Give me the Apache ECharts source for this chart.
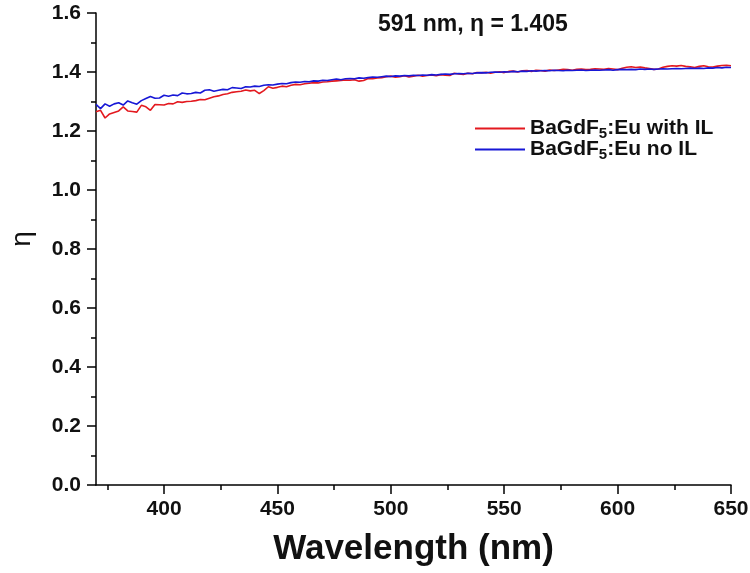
<!DOCTYPE html>
<html>
<head>
<meta charset="utf-8">
<script src="https://cdn.jsdelivr.net/npm/echarts@6/dist/echarts.min.js"></script>
<style>
  html, body { margin: 0; padding: 0; background: #fff; }
  #chart { width: 750px; height: 573px; }
</style>
</head>
<body>
<div id="chart"></div>
<script>
// Refractive index spectra of BaGdF5:Eu films, 370-650 nm in 2 nm steps
const wavelengths = [
  370,372,374,376,378,380,382,384,386,388,390,392,394,396,398,
  400,402,404,406,408,410,412,414,416,418,420,422,424,426,428,
  430,432,434,436,438,440,442,444,446,448,450,452,454,456,458,
  460,462,464,466,468,470,472,474,476,478,480,482,484,486,488,
  490,492,494,496,498,500,502,504,506,508,510,512,514,516,518,
  520,522,524,526,528,530,532,534,536,538,540,542,544,546,548,
  550,552,554,556,558,560,562,564,566,568,570,572,574,576,578,
  580,582,584,586,588,590,592,594,596,598,600,602,604,606,608,
  610,612,614,616,618,620,622,624,626,628,630,632,634,636,638,
  640,642,644,646,648,650
];

const etaWithIL = [
  1.265,1.270,1.244,1.258,1.263,1.268,1.282,1.268,1.266,1.264,1.287,1.282,1.270,1.290,1.289,
  1.288,1.293,1.292,1.299,1.297,1.300,1.301,1.303,1.307,1.306,1.311,1.316,1.319,1.324,1.326,
  1.331,1.333,1.335,1.339,1.336,1.338,1.327,1.337,1.350,1.345,1.348,1.352,1.350,1.355,1.358,
  1.357,1.360,1.362,1.364,1.363,1.366,1.367,1.369,1.370,1.371,1.373,1.372,1.374,1.369,1.371,
  1.378,1.377,1.380,1.381,1.384,1.386,1.382,1.384,1.387,1.383,1.386,1.389,1.386,1.388,1.390,
  1.387,1.391,1.389,1.388,1.396,1.393,1.392,1.396,1.394,1.398,1.397,1.399,1.396,1.399,1.401,
  1.398,1.402,1.403,1.400,1.404,1.405,1.402,1.406,1.405,1.403,1.407,1.405,1.407,1.409,1.408,
  1.406,1.409,1.410,1.408,1.409,1.411,1.410,1.409,1.412,1.410,1.408,1.413,1.416,1.418,1.415,
  1.417,1.414,1.412,1.409,1.410,1.416,1.419,1.421,1.420,1.422,1.419,1.418,1.415,1.419,1.421,
  1.418,1.417,1.420,1.422,1.423,1.421
];

const etaNoIL = [
  1.290,1.276,1.292,1.284,1.292,1.296,1.288,1.302,1.296,1.291,1.303,1.310,1.317,1.311,1.312,
  1.321,1.318,1.322,1.320,1.329,1.326,1.327,1.331,1.329,1.338,1.340,1.335,1.338,1.341,1.340,
  1.347,1.346,1.344,1.350,1.349,1.352,1.351,1.355,1.357,1.356,1.359,1.361,1.360,1.364,1.366,
  1.365,1.368,1.367,1.370,1.369,1.372,1.371,1.374,1.376,1.374,1.377,1.378,1.377,1.380,1.379,
  1.381,1.383,1.382,1.384,1.386,1.385,1.387,1.386,1.388,1.387,1.389,1.388,1.390,1.389,1.391,
  1.390,1.392,1.393,1.392,1.394,1.395,1.394,1.396,1.395,1.397,1.398,1.397,1.399,1.400,1.399,
  1.401,1.400,1.402,1.401,1.403,1.402,1.404,1.403,1.404,1.405,1.404,1.406,1.405,1.404,1.406,
  1.405,1.406,1.407,1.405,1.406,1.407,1.406,1.407,1.408,1.406,1.408,1.409,1.408,1.409,1.408,
  1.410,1.409,1.410,1.409,1.410,1.411,1.410,1.411,1.412,1.411,1.412,1.413,1.412,1.413,1.412,
  1.414,1.413,1.415,1.414,1.416,1.415
];

const xMajorTicks = [400, 450, 500, 550, 600, 650];
const xMinorTicks = [375, 425, 475, 525, 575, 625];
const seriesNames = ['BaGdF5:Eu with IL', 'BaGdF5:Eu no IL'];
const annotation = '591 nm, \u03b7 = 1.405';

const FONT = '"Liberation Sans", Arial, sans-serif';
const AXIS_COLOR = '#000';
const TEXT_COLOR = '#111';

function pairs(xs, ys) {
  return xs.map((x, i) => [x, ys[i]]);
}

// Legend text with the "5" of BaGdF5 set as a subscript
function legendLabel(name) {
  const m = name.match(/^(BaGdF)5(.*)$/);
  return m ? '{t|' + m[1] + '}{s|5}{t|' + m[2] + '}' : '{t|' + name + '}';
}

const chart = echarts.init(document.getElementById('chart'));

chart.setOption({
  backgroundColor: '#fff',
  animation: false,
  textStyle: { fontFamily: FONT, color: TEXT_COLOR },
  title: {
    text: annotation,
    left: 373,
    top: 8,
    textStyle: { fontFamily: FONT, fontSize: 23, fontWeight: 'bold', color: TEXT_COLOR }
  },
  legend: {
    orient: 'vertical',
    left: 470,
    top: 111,
    itemWidth: 50,
    itemHeight: 2,
    itemGap: -4,
    icon: 'rect',
    data: seriesNames,
    formatter: legendLabel,
    textStyle: {
      rich: {
        t: { fontFamily: FONT, fontSize: 21, fontWeight: 'bold', color: TEXT_COLOR, lineHeight: 21 },
        s: { fontFamily: FONT, fontSize: 15, fontWeight: 'bold', color: TEXT_COLOR, lineHeight: 21, padding: [10, 0, 0, 0] }
      }
    }
  },
  grid: { left: 96, right: 19, top: 13, bottom: 88, containLabel: false, outerBoundsMode: 'none' },
  xAxis: [
    {
      type: 'value',
      min: 370,
      max: 650,
      name: 'Wavelength (nm)',
      nameLocation: 'middle',
      nameGap: 47,
      nameTextStyle: { fontFamily: FONT, fontSize: 35, fontWeight: 'bold', color: TEXT_COLOR },
      axisLine: { show: true, onZero: false, lineStyle: { color: AXIS_COLOR, width: 1.5 } },
      axisTick: { show: true, inside: false, length: 9, customValues: xMajorTicks, lineStyle: { color: AXIS_COLOR, width: 1.5 } },
      axisLabel: { show: true, margin: 14, customValues: xMajorTicks, fontFamily: FONT, fontSize: 21, fontWeight: 'bold', color: TEXT_COLOR },
      splitLine: { show: false }
    },
    {
      type: 'value',
      min: 370,
      max: 650,
      position: 'bottom',
      axisLine: { show: false },
      axisTick: { show: true, inside: false, length: 5, customValues: xMinorTicks, lineStyle: { color: AXIS_COLOR, width: 1.5 } },
      axisLabel: { show: false },
      splitLine: { show: false }
    }
  ],
  yAxis: {
    type: 'value',
    min: 0,
    max: 1.6,
    interval: 0.2,
    name: '\u03b7',
    nameLocation: 'middle',
    nameGap: 60,
    nameRotate: 90,
    nameTextStyle: { fontFamily: FONT, fontSize: 28, color: TEXT_COLOR, padding: [0, 0, 0, 20] },
    axisLine: { show: true, onZero: false, lineStyle: { color: AXIS_COLOR, width: 1.5 } },
    axisTick: { show: true, inside: false, length: 9, lineStyle: { color: AXIS_COLOR, width: 1.5 } },
    minorTick: { show: true, splitNumber: 2, length: 5, lineStyle: { color: AXIS_COLOR, width: 1.5 } },
    axisLabel: {
      margin: 15,
      fontFamily: FONT,
      fontSize: 21,
      fontWeight: 'bold',
      color: TEXT_COLOR,
      formatter: v => v.toFixed(1)
    },
    splitLine: { show: false },
    minorSplitLine: { show: false }
  },
  series: [
    {
      name: seriesNames[0],
      type: 'line',
      xAxisIndex: 0,
      data: pairs(wavelengths, etaWithIL),
      symbol: 'none',
      color: '#e3191f',
      lineStyle: { color: '#e3191f', width: 1.6 }
    },
    {
      name: seriesNames[1],
      type: 'line',
      xAxisIndex: 0,
      data: pairs(wavelengths, etaNoIL),
      symbol: 'none',
      color: '#1717d6',
      lineStyle: { color: '#1717d6', width: 1.6 }
    }
  ]
});
</script>
</body>
</html>
